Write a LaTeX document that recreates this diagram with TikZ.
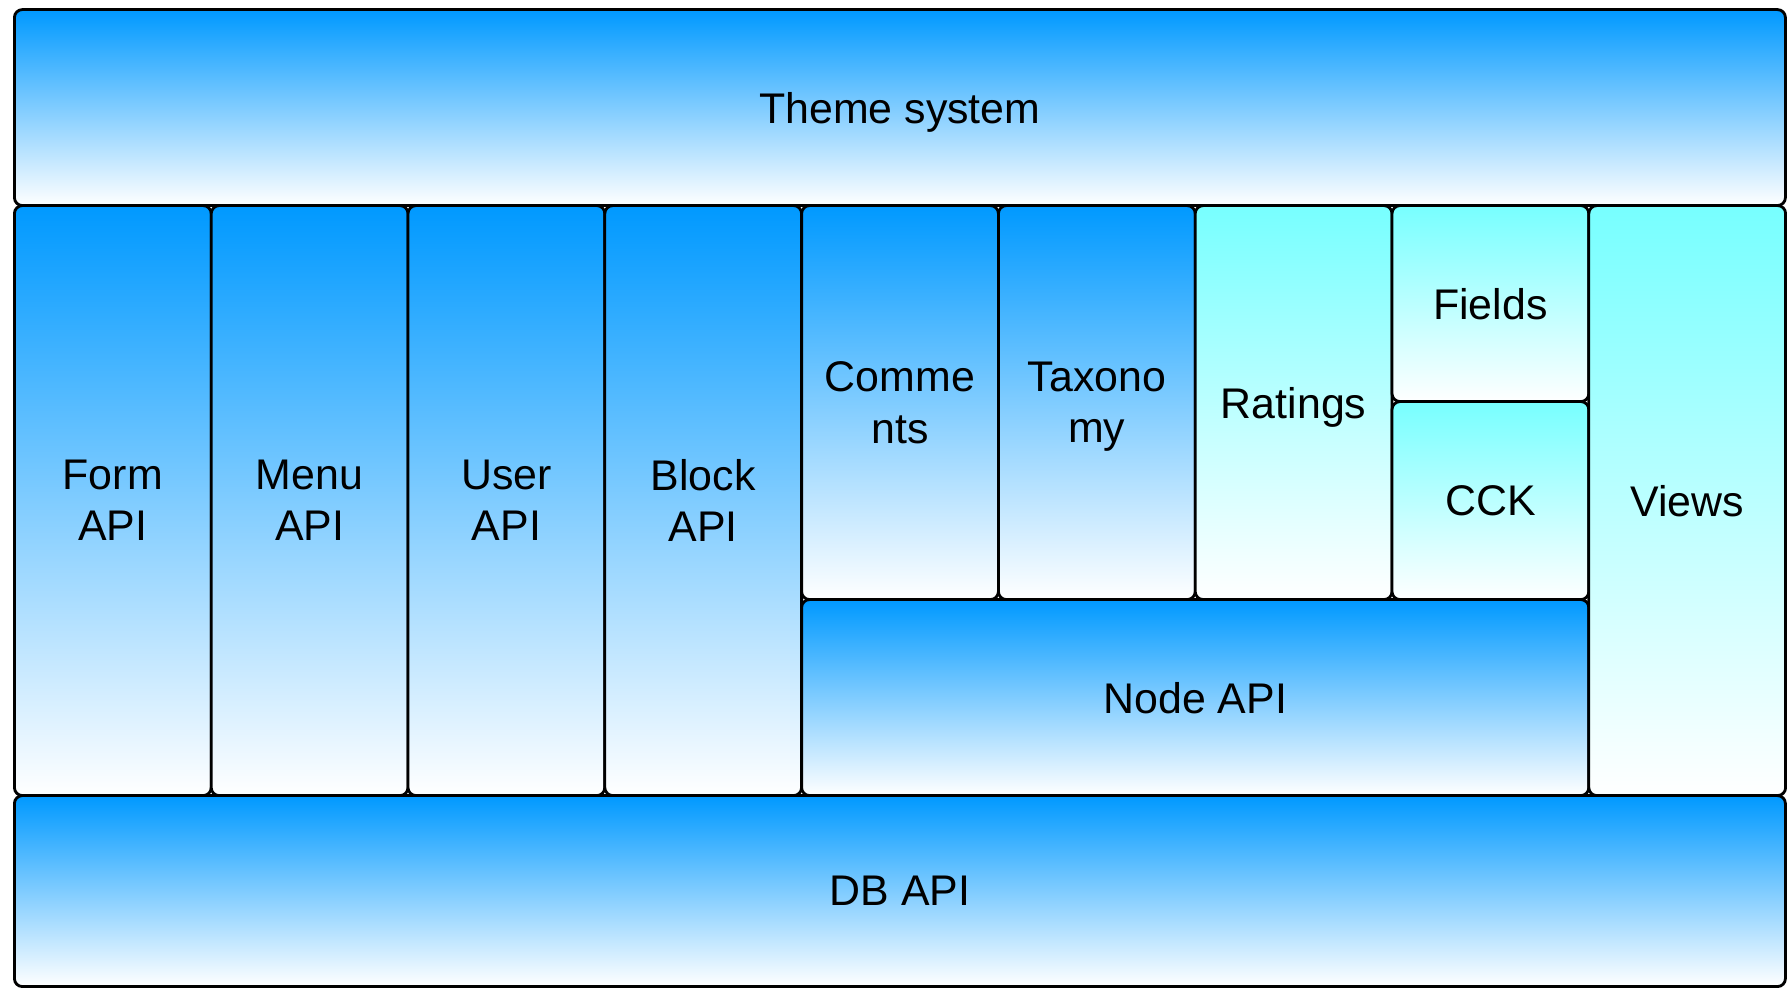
\documentclass[tikz,border=0pt]{standalone}
\usepackage{fontspec}
\setmainfont{Liberation Sans}
\definecolor{apiblue}{RGB}{0,153,255}
\definecolor{modcyan}{RGB}{119,255,255}
\begin{document}
\begin{tikzpicture}[
  layer/.style={draw=black,line width=0.8pt,rounded corners=0.08cm,inner sep=0,text depth=0pt,anchor=south west,align=center,font=\fontsize{12.2}{14.6}\selectfont},
  core/.style={layer,top color=apiblue,bottom color=white},
  contrib/.style={layer,top color=modcyan,bottom color=white}
  ]
  \useasboundingbox (0,0) rectangle (17.87,9.91);
  %
  % Top and bottom layers
  %
  \node(theme)[core,minimum width=17.71cm,minimum height=1.96cm]at (0.13cm,7.84cm){Theme system};
  \node(db)   [core,minimum width=17.71cm,minimum height=1.91cm]at (0.13cm,0.03cm){DB API};
  %
  % Core APIs
  %
  \node(form) [core,minimum width=1.968cm,minimum height=5.90cm]at (0.13 cm,1.94cm){Form\\API};
  \node(menu) [core,minimum width=1.968cm,minimum height=5.90cm]at (2.098cm,1.94cm){Menu\\API};
  \node(user) [core,minimum width=1.968cm,minimum height=5.90cm]at (4.066cm,1.94cm){User\\API};
  \node(block)[core,minimum width=1.968cm,minimum height=5.90cm]at (6.034cm,1.94cm){Block\\API};
  \node(nodeapi)[core,minimum width=7.872cm,minimum height=1.96cm]at (8.002cm,1.94cm){Node API};
  %
  % Modules
  %
  \node(comments)[core,minimum width=1.968cm,minimum height=3.94cm]at (8.002cm,3.90cm){Comme\\nts};
  \node(taxonomy)[core,minimum width=1.968cm,minimum height=3.94cm]at (9.97 cm,3.90cm){Taxono\\my};
  \node(ratings) [contrib,minimum width=1.968cm,minimum height=3.94cm]at (11.938cm,3.90cm){Ratings};
  \node(fields)  [contrib,minimum width=1.968cm,minimum height=1.96cm]at (13.906cm,5.88cm){Fields};
  \node(cck)     [contrib,minimum width=1.968cm,minimum height=1.98cm]at (13.906cm,3.90cm){CCK};
  \node(views)   [contrib,minimum width=1.968cm,minimum height=5.90cm]at (15.874cm,1.94cm){Views};
\end{tikzpicture}
\end{document}
